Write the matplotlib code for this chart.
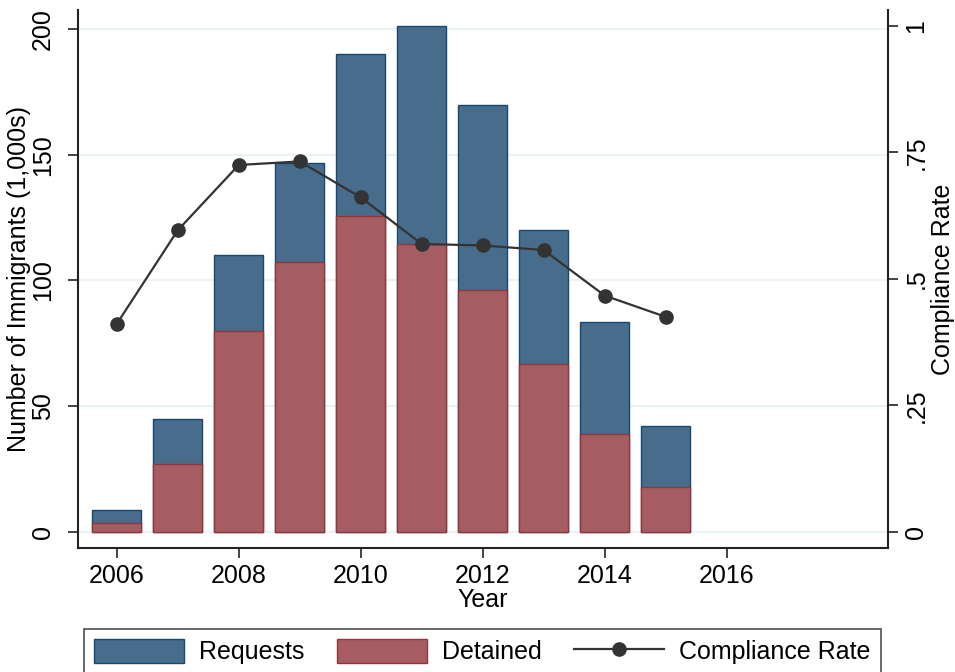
import matplotlib.pyplot as plt
from matplotlib.patches import Patch
from matplotlib.lines import Line2D

plt.rcParams['font.family'] = ['Liberation Sans', 'DejaVu Sans']

# immigration detainer data by fiscal year (counts in 1,000s)
years = [2006, 2007, 2008, 2009, 2010, 2011, 2012, 2013, 2014, 2015]
requests = [8.7, 44.8, 110.1, 146.7, 190.1, 201.3, 169.9, 120.1, 83.5, 42.1]
detained = [3.5, 26.9, 79.9, 107.5, 125.6, 114.6, 96.2, 66.8, 39.0, 18.0]
compliance = [0.411, 0.596, 0.725, 0.732, 0.661, 0.569, 0.566, 0.557, 0.467, 0.425]

left_ticks = [0, 50, 100, 150, 200]
right_ticks = [0, 0.25, 0.5, 0.75, 1]
right_labels = ['0', '.25', '.5', '.75', '1']
x_ticks = [2006, 2008, 2010, 2012, 2014, 2016]

navy = '#1a476f'
maroon = '#90353b'
navy_fill = '#486c8c'
maroon_fill = '#a65d62'
axis_col = '#222222'
fs = 18

fig = plt.figure(figsize=(9.55, 6.72), dpi=100)
ax = fig.add_axes([0.082, 0.185, 0.8475, 0.80])

ax.bar(years, requests, width=0.8, color=navy_fill, edgecolor=navy, linewidth=1, zorder=2)
ax.bar(years, detained, width=0.8, color=maroon_fill, edgecolor=maroon, linewidth=1, zorder=3)

ax.set_xlim(2005.37, 2018.64)
ax.set_ylim(-6.24, 207.5)
ax.set_yticks(left_ticks)
ax.set_yticklabels([str(t) for t in left_ticks], rotation=90, va='center')
ax.set_xticks(x_ticks)
ax.grid(axis='y', color='#eaf2f3', linewidth=1.5, zorder=0)
ax.set_axisbelow(True)
ax.tick_params(axis='y', direction='out', length=7, width=1.2, color=axis_col, pad=10, labelsize=fs)
ax.tick_params(axis='x', direction='out', length=7, width=1.2, color=axis_col, pad=5, labelsize=fs)
for side in ['left', 'bottom']:
    ax.spines[side].set_color(axis_col)
    ax.spines[side].set_linewidth(1.5)
ax.spines['top'].set_visible(False)
ax.spines['right'].set_visible(False)
ax.set_xlabel('Year', fontsize=fs, labelpad=0)
ax.set_ylabel('Number of Immigrants (1,000s)', fontsize=fs)
ax.yaxis.set_label_coords(-0.059, 0.5)

# compliance rate on the secondary axis
ax2 = ax.twinx()
ax2.plot(years, compliance, color='#333333', linewidth=1.6, marker='o',
         markersize=9.5, markerfacecolor='#333333', markeredgecolor='#333333', zorder=4)
ax2.set_ylim(-0.031, 1.031)
ax2.set_yticks(right_ticks)
ax2.set_yticklabels(right_labels, rotation=90, va='center')
ax2.tick_params(axis='y', direction='out', length=7, width=1.2, color=axis_col, pad=5, labelsize=fs)
ax2.spines['right'].set_color(axis_col)
ax2.spines['right'].set_linewidth(1.5)
for side in ['top', 'left', 'bottom']:
    ax2.spines[side].set_visible(False)
ax2.set_ylabel('Compliance Rate', fontsize=fs)
ax2.yaxis.set_label_coords(1.054, 0.5)

handles = [
    Patch(facecolor=navy_fill, edgecolor=navy, linewidth=1),
    Patch(facecolor=maroon_fill, edgecolor=maroon, linewidth=1),
    Line2D([], [], color='#333333', linewidth=1.6, marker='o', markersize=9.5),
]
leg = fig.legend(handles, ['Requests', 'Detained', 'Compliance Rate'],
                 loc='upper center', bbox_to_anchor=(0.505, 0.064), ncol=3,
                 fontsize=fs, frameon=True, fancybox=False, handlelength=3.6,
                 handleheight=1.1, handletextpad=0.6, columnspacing=1.3,
                 borderpad=0.4, borderaxespad=0)
leg.get_frame().set_edgecolor('#222222')
leg.get_frame().set_linewidth(1.2)

fig.savefig('out.png', dpi=100)
